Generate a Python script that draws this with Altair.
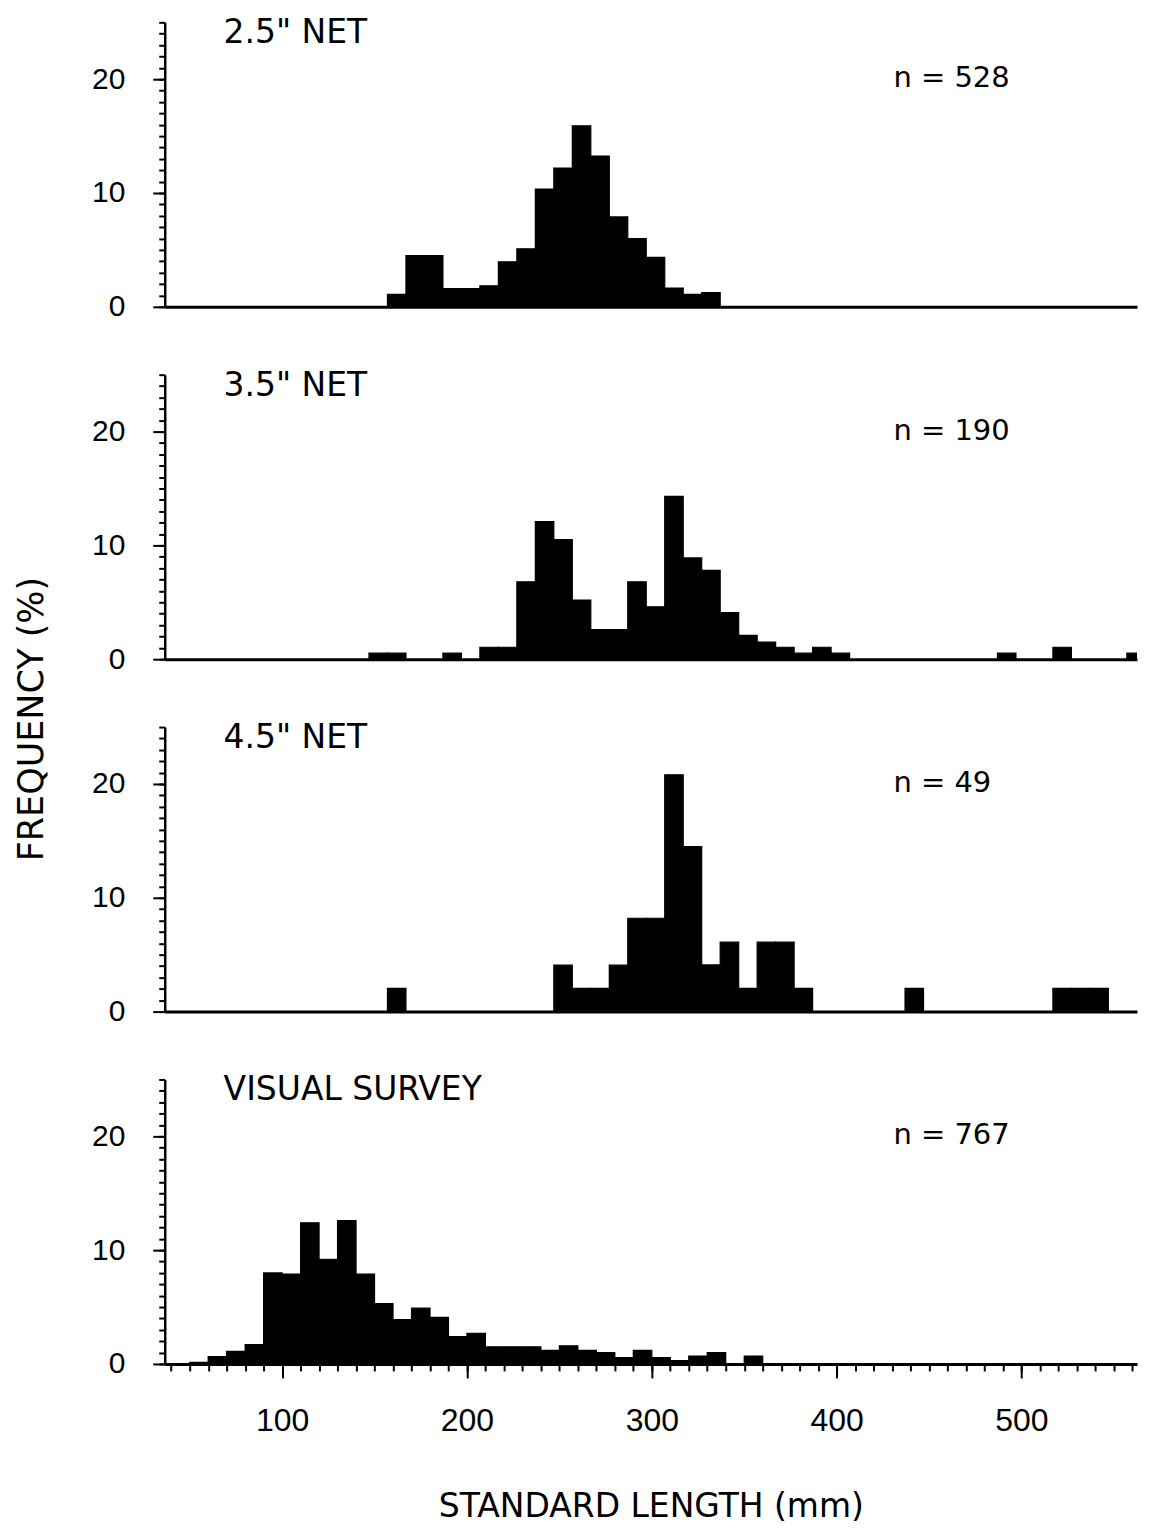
import altair as alt
import pandas as pd

# ---------------- data ----------------
panel_titles = ['2.5" NET', '3.5" NET', '4.5" NET', 'VISUAL SURVEY']
sample_sizes = ["n = 528", "n = 190", "n = 49", "n = 767"]
bin_width = 10  # mm

# 2.5" net: lower bin edge (mm) and frequency (%)
net25_start = [157, 167, 177, 187, 197, 207, 217, 227, 237, 247, 257, 267, 277, 287, 297, 307, 317, 327]
net25_pct = [1.1, 4.5, 4.5, 1.6, 1.6, 1.85, 3.95, 5.1, 10.35, 12.2, 15.9, 13.25, 7.9, 6.0, 4.35, 1.65, 1.1, 1.25]

# 3.5" net
net35_start = [147, 157, 187, 207, 217, 227, 237, 247, 257, 267, 277, 287, 297, 307, 317, 327, 337,
               347, 357, 367, 377, 387, 397, 487, 517, 557]
net35_pct = [0.53, 0.53, 0.53, 1.05, 1.05, 6.8, 12.1, 10.5, 5.2, 2.6, 2.6, 6.8, 4.6, 14.3, 8.9, 7.8, 4.1,
             2.1, 1.5, 1.05, 0.53, 1.05, 0.53, 0.53, 1.05, 0.53]

# 4.5" net
net45_start = [157, 247, 257, 267, 277, 287, 297, 307, 317, 327, 337, 347, 357, 367, 377, 437, 517, 527, 537]
net45_pct = [2.04, 4.08, 2.04, 2.04, 4.08, 8.2, 8.2, 20.8, 14.5, 4.1, 6.1, 2.04, 6.1, 6.1, 2.04, 2.04,
             2.04, 2.04, 2.04]

# visual survey
visual_start = [50, 60, 70, 80, 90, 100, 110, 120, 130, 140, 150, 160, 170, 180, 190, 200, 210, 220, 230,
                240, 250, 260, 270, 280, 290, 300, 310, 320, 330, 350]
visual_pct = [0.13, 0.65, 1.1, 1.7, 8.0, 7.9, 12.4, 9.2, 12.6, 7.9, 5.3, 3.9, 4.9, 4.1, 2.4, 2.7, 1.5, 1.5,
              1.5, 1.2, 1.6, 1.2, 1.0, 0.55, 1.2, 0.55, 0.3, 0.7, 1.0, 0.7]

y_major_ticks = [0, 10, 20]
y_minor_ticks = list(range(0, 26))
x_major_ticks = [100, 200, 300, 400, 500]
x_minor_ticks = list(range(40, 561, 10))
x_title = "STANDARD LENGTH (mm)"
y_title = "FREQUENCY (%)"

# ---------------- styling ----------------
LABEL_FONT = "Liberation Sans Narrow, Liberation Sans, sans-serif"
TITLE_FONT = "DejaVu Sans"
PLOT_W = 974
PLOT_H = 285

xs = alt.Scale(domain=[36.5, 562.5], nice=False, zero=False)
ys = alt.Scale(domain=[0, 25], nice=False)

common_axis = dict(domainColor="black", tickColor="black", grid=False, title=None)


def panel(starts, pcts, title, nlabel, bottom=False, ytitle=False):
    df = pd.DataFrame({"start": starts, "pct": pcts})
    df["end"] = df["start"] + bin_width

    if bottom:
        x_minor_axis = alt.Axis(values=x_minor_ticks, tickSize=7, tickWidth=2, labels=False,
                                domain=True, domainWidth=3, orient="bottom", **common_axis)
        x_major_axis = alt.Axis(values=x_major_ticks, tickSize=14, tickWidth=2, labels=True,
                                labelFont=LABEL_FONT, labelFontSize=32, labelColor="black",
                                labelPadding=28, domain=False, orient="bottom",
                                domainColor="black", tickColor="black", grid=False,
                                title=x_title, titleFont=TITLE_FONT, titleFontSize=33,
                                titleFontWeight="normal", titleColor="black", titlePadding=54)
    else:
        x_minor_axis = alt.Axis(ticks=False, labels=False, domain=True, domainWidth=3,
                                orient="bottom", **common_axis)
        x_major_axis = None

    y_minor_axis = alt.Axis(values=y_minor_ticks, tickSize=6, tickWidth=2, labels=False,
                            domain=True, domainWidth=2.5, orient="left", **common_axis)
    y_major_axis = alt.Axis(values=y_major_ticks, tickSize=12, tickWidth=2, labels=True,
                            labelFont=LABEL_FONT, labelFontSize=30, labelColor="black",
                            labelPadding=28, domain=False, orient="left", **common_axis)

    bars = alt.Chart(df).mark_bar(color="black", stroke="black", strokeWidth=1.2, clip=True).encode(
        x=alt.X("start:Q", scale=xs, axis=x_minor_axis),
        x2="end:Q",
        y=alt.Y("pct:Q", scale=ys, axis=y_minor_axis),
        y2=alt.datum(0),
    )
    ghost = alt.Chart(df).mark_bar(opacity=0, clip=True).encode(
        x=alt.X("start:Q", scale=xs, axis=x_major_axis),
        x2="end:Q",
        y=alt.Y("pct:Q", scale=ys, axis=y_major_axis),
        y2=alt.datum(0),
    )
    ttl = alt.Chart(pd.DataFrame({"t": [title]})).mark_text(
        align="left", baseline="middle", font=TITLE_FONT, fontSize=33, color="black"
    ).encode(text="t:N", x=alt.value(59), y=alt.value(11))
    ntxt = alt.Chart(pd.DataFrame({"t": [nlabel]})).mark_text(
        align="left", baseline="middle", font=TITLE_FONT, fontSize=29, color="black"
    ).encode(text="t:N", x=alt.value(730), y=alt.value(56))

    layers = [bars, ghost, ttl, ntxt]
    if ytitle:
        yt = alt.Chart(pd.DataFrame({"t": [y_title]})).mark_text(
            align="center", baseline="middle", font=TITLE_FONT, fontSize=35, angle=270, color="black"
        ).encode(text="t:N", x=alt.value(-133), y=alt.value(-8))
        layers.append(yt)

    return alt.layer(*layers).resolve_axis(x="independent", y="independent").properties(
        width=PLOT_W, height=PLOT_H
    )


p1 = panel(net25_start, net25_pct, panel_titles[0], sample_sizes[0])
p2 = panel(net35_start, net35_pct, panel_titles[1], sample_sizes[1])
p3 = panel(net45_start, net45_pct, panel_titles[2], sample_sizes[2], ytitle=True)
p4 = panel(visual_start, visual_pct, panel_titles[3], sample_sizes[3], bottom=True)

chart = alt.vconcat(p1, p2, p3, p4, spacing=68, bounds="flush").properties(
    padding={"left": 6, "top": 8, "right": 5, "bottom": 5},
    background="white",
).configure_view(stroke=None)

chart.save("out.html", embed_options={"renderer": "svg", "actions": False})
